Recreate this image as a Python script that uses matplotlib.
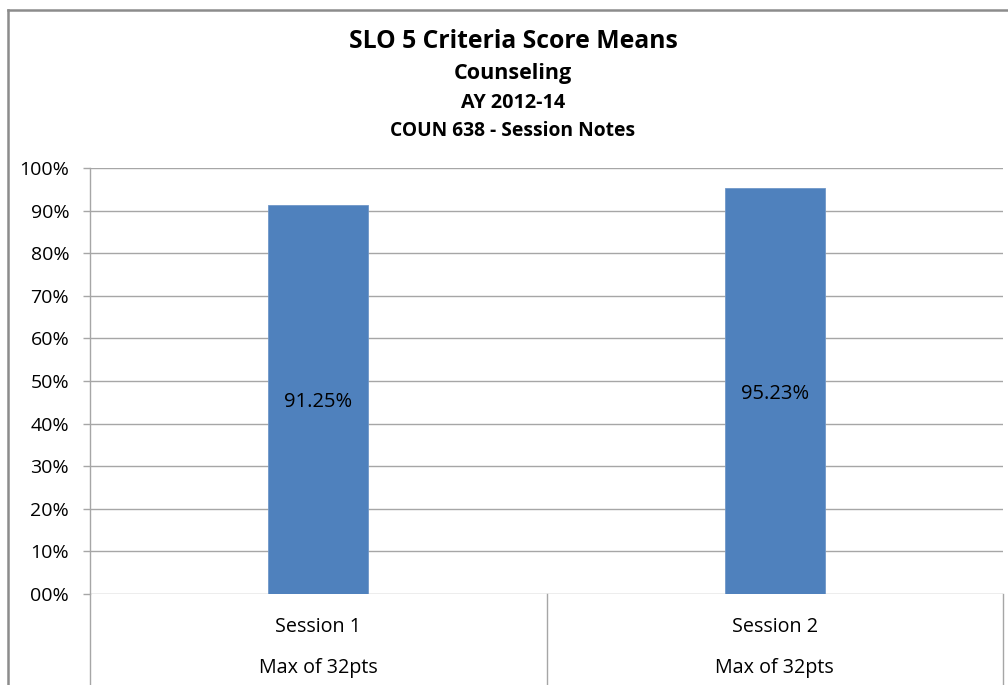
import matplotlib
matplotlib.use("Agg")
import matplotlib.pyplot as plt
from matplotlib.lines import Line2D
import matplotlib.transforms as mtransforms

plt.rcParams['font.family'] = ['Open Sans', 'DejaVu Sans']

categories = ["Session 1", "Session 2"]
sublabels = ["Max of 32pts", "Max of 32pts"]
values = [91.25, 95.23]
value_labels = ["91.25%", "95.23%"]
yticks = [0, 10, 20, 30, 40, 50, 60, 70, 80, 90, 100]
ytick_labels = ["00%", "10%", "20%", "30%", "40%", "50%", "60%", "70%", "80%", "90%", "100%"]
title_lines = ["SLO 5 Criteria Score Means", "Counseling", "AY 2012-14", "COUN 638 - Session Notes"]

W, H = 1008, 685
fig = plt.figure(figsize=(W / 100, H / 100), dpi=100)
ax = fig.add_axes([90 / W, 1 - 594 / H, (1003 - 90) / W, (594 - 168) / H])

grid_color = '#a6a6a6'
bar_color = '#4f81bd'

xpos = [i + 0.5 for i in range(len(categories))]
ax.bar(xpos, values, width=0.219, color=bar_color, edgecolor='#7097c8', linewidth=0.6, zorder=3)
ax.set_xlim(0, len(categories))
ax.set_ylim(0, 100)

for v in yticks:
    ax.axhline(v, color=grid_color, linewidth=1.0, zorder=1)

ax.set_yticks(yticks)
ax.set_yticklabels(ytick_labels, fontsize=14)
ax.tick_params(axis='y', length=5, width=1, color=grid_color, pad=10)
ax.set_xticks([])
for s in ['top', 'right', 'bottom']:
    ax.spines[s].set_visible(False)
ax.spines['left'].set_color(grid_color)
ax.spines['left'].set_linewidth(1.0)

for x, v, lab in zip(xpos, values, value_labels):
    ax.text(x, v / 2, lab, ha='center', va='center_baseline', fontsize=14.5, color='#000000', zorder=4)

# category axis separators and labels
trans = mtransforms.blended_transform_factory(ax.transData, ax.transAxes)
bottom = -(685 - 594) / (594 - 168) - 0.01
for xb in range(len(categories) + 1):
    ax.add_line(Line2D([xb, xb], [0, bottom], transform=trans, color=grid_color,
                       linewidth=1.0, clip_on=False))
for x, c, s in zip(xpos, categories, sublabels):
    ax.text(x, -(625 - 594) / 426, c, transform=trans, ha='center', va='center_baseline', fontsize=14.2)
    ax.text(x, -(666 - 594) / 426, s, transform=trans, ha='center', va='center_baseline', fontsize=14.2)

# titles
ys = [41, 74, 103, 131]
sizes = [17.8, 15.5, 14.2, 13.9]
for t, y, sz in zip(title_lines, ys, sizes):
    fig.text(513 / W, 1 - y / H, t, ha='center', va='center', fontsize=sz, fontweight='bold')

# chart frame
frame_color = '#8c8c8c'
fig.add_artist(Line2D([7.5 / W, 1.0], [1 - 9.5 / H, 1 - 9.5 / H], transform=fig.transFigure,
                      color=frame_color, linewidth=1.8))
fig.add_artist(Line2D([7.5 / W, 7.5 / W], [0, 1 - 9.5 / H], transform=fig.transFigure,
                      color=frame_color, linewidth=1.8))

fig.savefig('out.png', dpi=100)
